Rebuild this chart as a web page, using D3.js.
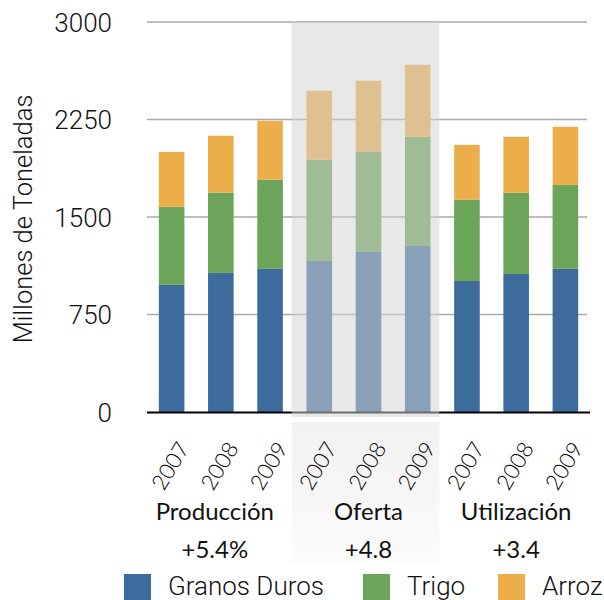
<!DOCTYPE html>
<html>
<head>
<meta charset="utf-8">
<script src="https://cdn.jsdelivr.net/npm/d3@7"></script>
<style>
  body { margin: 0; background: #fff; }
  svg { display: block; }
</style>
</head>
<body>
<svg id="chart" width="604" height="600"></svg>
<script>
// data (millones de toneladas)
var groups = ["Producción", "Oferta", "Utilización"];
var changes = ["+5.4%", "+4.8", "+3.4"];
var years = ["2007", "2008", "2009"];
var granos = [978, 1070, 1101, 1162, 1232, 1278, 1008, 1062, 1101];
var trigo  = [600, 618, 685, 778, 769, 839, 624, 624, 646];
var arroz  = [423, 437, 454, 531, 547, 554, 423, 431, 447];
var seriesNames = ["Granos Duros", "Trigo", "Arroz"];
var yTicks = [0, 750, 1500, 2250, 3000];

var colors = ["#3c6b9c", "#6ca459", "#ecae4a"];
var lightFont = "'Helvetica Neue', Roboto, 'Liberation Sans', sans-serif";
var gillFont = "Lato, 'Open Sans', sans-serif";

var svg = d3.select("#chart");
var plotL = 147, plotR = 590, plotT = 22, plotB = 412;

// one band per group/year
var keys = [];
groups.forEach(function(g, gi){
	years.forEach(function(y, yi){ keys.push(gi + "-" + y); });
});
var rows = keys.map(function(k, i){
	return {key: k, year: k.split("-")[1], g: +k.split("-")[0], granos: granos[i], trigo: trigo[i], arroz: arroz[i]};
});

var x = d3.scaleBand().domain(keys).range([plotL, plotR]).paddingInner(0.48).paddingOuter(0.24);
var y = d3.scaleLinear().domain([0, 3000]).range([plotB, plotT]);
var stack = d3.stack().keys(["granos", "trigo", "arroz"])(rows);

// light box under the Oferta labels
var defs = svg.append("defs");
var grad = defs.append("linearGradient").attr("id", "fade").attr("x1", 0).attr("y1", 0).attr("x2", 0).attr("y2", 1);
grad.append("stop").attr("offset", "0%").attr("stop-color", "#f2f2f2");
grad.append("stop").attr("offset", "100%").attr("stop-color", "#fbfbfb");

var gx0 = x(keys[3]) - x.step() * x.paddingInner() / 2 - 3;
var gx1 = x(keys[5]) + x.bandwidth() + x.step() * x.paddingInner() / 2 - 3;
svg.append("rect").attr("x", gx0).attr("y", plotB + 10).attr("width", gx1 - gx0).attr("height", 141)
	.attr("fill", "url(#fade)");

// grid
svg.append("g").selectAll("line").data(yTicks.filter(function(d){ return d > 0; })).join("line")
	.attr("x1", plotL).attr("x2", plotR - 3)
	.attr("y1", function(d){ return y(d); }).attr("y2", function(d){ return y(d); })
	.attr("stroke", "#a9a9a9").attr("stroke-width", 1.4);

// bars
svg.append("g").selectAll("g").data(stack).join("g")
	.attr("fill", function(d, i){ return colors[i]; })
	.selectAll("rect").data(function(d){ return d; }).join("rect")
	.attr("x", function(d){ return x(d.data.key); })
	.attr("width", x.bandwidth())
	.attr("y", function(d){ return y(d[1]); })
	.attr("height", function(d){ return y(d[0]) - y(d[1]); });

// baseline
svg.append("line").attr("x1", plotL).attr("x2", plotR).attr("y1", plotB + 0.5).attr("y2", plotB + 0.5)
	.attr("stroke", "#000").attr("stroke-width", 2);

// grey veil over the Oferta bars
svg.append("rect").attr("x", gx0).attr("y", plotT).attr("width", gx1 - gx0).attr("height", plotB + 5 - plotT)
	.attr("fill", "#d2d2d2").attr("fill-opacity", 0.515);

// y axis labels
var yAxis = d3.axisLeft(y).tickValues(yTicks).tickFormat(d3.format("d")).tickSize(0).tickPadding(0);
var ya = svg.append("g").attr("transform", "translate(112,0)").call(yAxis);
ya.select(".domain").remove();
ya.selectAll("text").attr("font-family", lightFont).attr("font-weight", 300)
	.attr("font-size", 26).attr("fill", "#111").attr("dy", "0.36em");

svg.append("text").attr("transform", "translate(32,219) rotate(-90)")
	.attr("text-anchor", "middle").attr("font-family", lightFont).attr("font-weight", 300)
	.attr("font-size", 25.5).attr("fill", "#111").text("Millones de Toneladas");

// year labels
svg.append("g").selectAll("text").data(rows).join("text")
	.attr("transform", function(d){ return "translate(" + (x(d.key) + x.bandwidth() / 2 + 18.5) + "," + (plotB + 36) + ") rotate(-59)"; })
	.attr("text-anchor", "end").attr("font-family", gillFont).attr("font-weight", 300)
	.attr("font-size", 22).attr("fill", "#000").text(function(d){ return d.year; });

// group names and changes
groups.forEach(function(g, gi){
	var cx = x(keys[gi * 3 + 1]) + x.bandwidth() / 2 - (gi == 0 ? 6 : 0);
	svg.append("text").attr("x", cx).attr("y", 520).attr("text-anchor", "middle")
		.attr("font-family", gillFont).attr("font-size", 24).attr("fill", "#111").text(g);
	svg.append("text").attr("x", cx).attr("y", 558).attr("text-anchor", "middle")
		.attr("font-family", gillFont).attr("font-size", 24).attr("fill", "#111").text(changes[gi]);
});

// legend
var legX = [124, 363, 498];
var leg = svg.append("g").selectAll("g").data(seriesNames).join("g")
	.attr("transform", function(d, i){ return "translate(" + legX[i] + ",574)"; });
leg.append("rect").attr("width", 27).attr("height", 27).attr("fill", function(d, i){ return colors[i]; });
leg.append("text").attr("x", 44).attr("y", 21).attr("font-family", lightFont).attr("font-weight", 300)
	.attr("font-size", 26).attr("fill", "#111").text(function(d){ return d; });
</script>
</body>
</html>
